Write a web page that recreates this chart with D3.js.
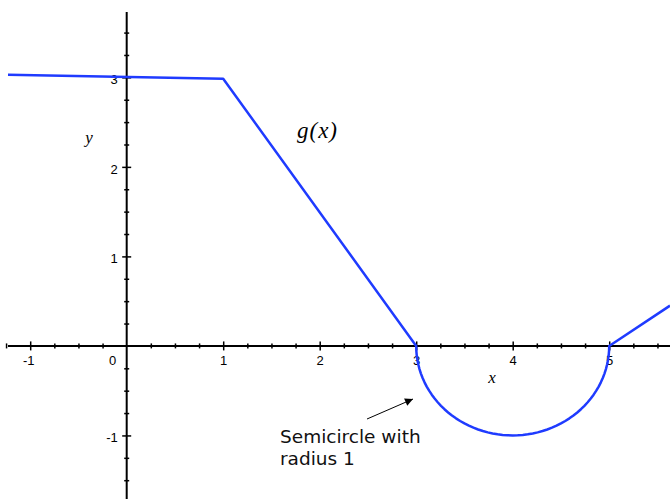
<!DOCTYPE html>
<html>
<head>
<meta charset="utf-8">
<script src="https://cdn.jsdelivr.net/npm/d3@7"></script>
<style>
  body { margin: 0; background: #fff; }
  svg { display: block; }
</style>
</head>
<body>
<div id="chart-area"></div>
<script>
// piecewise pieces of g(x)
const lineLeft = [[-1.23, 3.03], [1, 2.985], [3, 0]];
const arcCenter = [4, 0];
const arcRadius = 1;
const lineRight = [[5, 0], [5.63, 0.45]];
const xMajor = [-1, 1, 2, 3, 4, 5];
const yMajor = [-1, 1, 2, 3];

const width = 670, height = 499;

const svg = d3.select("#chart-area")
  .append("svg")
    .attr("width", width)
    .attr("height", height);

const x = d3.scaleLinear().domain([-1.23, 5.63]).range([8, 670]);
const y = d3.scaleLinear().domain([-1.71, 3.73]).range([499, 12]);

const xMinor = d3.range(-1.25, 5.63, 0.25).filter(v => Math.abs(v - Math.round(v)) > 0.01);
const yMinor = d3.range(-1.75, 3.73, 0.25).filter(v => Math.abs(v - Math.round(v)) > 0.01 && v > -1.71);

const fmt = d => String(d);   // plain hyphen minus, no decimals
const tickFont = "'Liberation Sans', Arial, sans-serif";

// X axis
const gx = svg.append("g").attr("transform", `translate(0, ${y(0)})`);
gx.call(d3.axisBottom(x).tickValues(xMinor).tickSize(0).tickFormat(""))
  .call(g => g.select(".domain").remove());
gx.selectAll(".tick line").attr("y1", -2.5).attr("y2", 2.5).attr("stroke-width", 1.5);
const gx2 = svg.append("g").attr("transform", `translate(0, ${y(0)})`);
gx2.call(d3.axisBottom(x).tickValues(xMajor).tickSize(0).tickPadding(10).tickFormat(fmt))
  .call(g => g.select(".domain").remove());
gx2.selectAll(".tick line").attr("y1", -4.5).attr("y2", 4.5).attr("stroke-width", 1.5);
gx2.selectAll(".tick text")
  .style("font-family", tickFont)
  .style("font-size", "13px")
  .attr("dx", d => d === -1 ? -2 : 0);
svg.append("line")
  .attr("x1", x.range()[0]).attr("x2", x.range()[1])
  .attr("y1", y(0)).attr("y2", y(0))
  .attr("stroke", "#000").attr("stroke-width", 2);

// Y axis
const gy = svg.append("g").attr("transform", `translate(${x(0)}, 0)`);
gy.call(d3.axisLeft(y).tickValues(yMinor).tickSize(0).tickFormat(""))
  .call(g => g.select(".domain").remove());
gy.selectAll(".tick line").attr("x1", -2.5).attr("x2", 2.5).attr("stroke-width", 1.5);
const gy2 = svg.append("g").attr("transform", `translate(${x(0)}, 0)`);
gy2.call(d3.axisLeft(y).tickValues(yMajor).tickSize(0).tickPadding(9).tickFormat(fmt))
  .call(g => g.select(".domain").remove());
gy2.selectAll(".tick line").attr("x1", -4.5).attr("x2", 4.5).attr("stroke-width", 1.5);
gy2.selectAll(".tick text")
  .style("font-family", tickFont)
  .style("font-size", "13px")
  .attr("dy", "0.5em");
svg.append("line")
  .attr("x1", x(0)).attr("x2", x(0))
  .attr("y1", y.range()[1]).attr("y2", y.range()[0])
  .attr("stroke", "#000").attr("stroke-width", 2);

// the "0" label at the origin
svg.append("text")
  .attr("x", x(0) - 14).attr("y", y(0) + 19)
  .attr("text-anchor", "middle")
  .style("font-family", tickFont)
  .style("font-size", "13px")
  .text("0");

// g(x)
const arcPts = d3.range(180, 361, 3).map(a => [
  arcCenter[0] + arcRadius * Math.cos(a * Math.PI / 180),
  arcCenter[1] + arcRadius * Math.sin(a * Math.PI / 180)
]);
const pts = lineLeft.concat(arcPts.slice(1)).concat(lineRight.slice(1));
svg.append("path")
  .datum(pts)
  .attr("fill", "none")
  .attr("stroke", "#1f3bff")
  .attr("stroke-width", 2.5)
  .attr("stroke-linejoin", "round")
  .attr("d", d3.line().x(d => x(d[0])).y(d => y(d[1])));

// labels
const serif = "'Liberation Serif', 'Times New Roman', serif";
svg.append("text").attr("x", 89).attr("y", 143)
  .style("font-family", serif).style("font-style", "italic").style("font-size", "17px").attr("text-anchor", "middle")
  .text("y");
svg.append("text").attr("x", 492).attr("y", 383)
  .style("font-family", serif).style("font-style", "italic").style("font-size", "17px").attr("text-anchor", "middle")
  .text("x");
svg.append("text").attr("x", 297).attr("y", 138)
  .style("font-family", serif).style("font-style", "italic").style("font-size", "23px")
  .attr("letter-spacing", 1)
  .text("g(x)");

// annotation
svg.append("defs").append("marker")
  .attr("id", "arrow")
  .attr("viewBox", "0 0 10 10")
  .attr("refX", 10).attr("refY", 5)
  .attr("markerWidth", 10).attr("markerHeight", 8)
  .attr("markerUnits", "userSpaceOnUse")
  .attr("orient", "auto")
  .append("path").attr("d", "M0,0L10,5L0,10Z").attr("fill", "#000");
svg.append("line")
  .attr("x1", 367).attr("y1", 419).attr("x2", 413).attr("y2", 399)
  .attr("stroke", "#000").attr("stroke-width", 1)
  .attr("marker-end", "url(#arrow)");
const note = svg.append("text")
  .style("font-family", "'DejaVu Sans', sans-serif").style("font-size", "18.5px").attr("fill", "#111");
note.append("tspan").attr("x", 280).attr("y", 443).text("Semicircle with");
note.append("tspan").attr("x", 280).attr("y", 465).text("radius 1");
</script>
</body>
</html>
